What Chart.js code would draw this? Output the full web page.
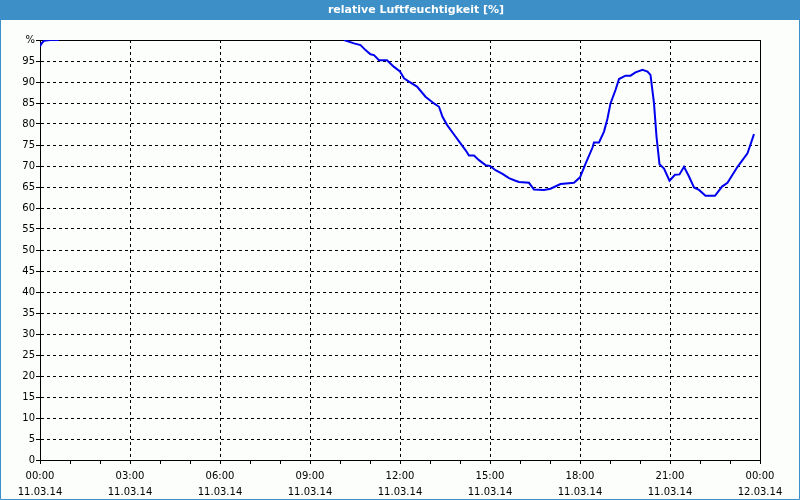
<!DOCTYPE html>
<html>
<head>
<meta charset="utf-8">
<script src="https://cdn.jsdelivr.net/npm/chart.js@4"></script>
<style>
  html, body { margin: 0; padding: 0; background: #fcfefc; }
  #wrap { width: 800px; height: 500px; }
</style>
</head>
<body>
<div id="wrap"><canvas id="humidity-graph" width="800" height="500"></canvas></div>
<script>
const chartTitle = "relative Luftfeuchtigkeit [%]"

// Messzeitpunkte (11.03.14) und relative Luftfeuchtigkeit in %
const times = [
    "00:00", "00:04", "00:08", "00:20", "00:38", "05:00",
    "10:08", "10:28", "10:41", "10:51", "11:01", "11:08", "11:18", "11:34", "11:48",
    "12:00", "12:08", "12:18", "12:34", "12:51", "13:08", "13:18", "13:25", "13:34", "13:48",
    "14:01", "14:11", "14:18", "14:28", "14:38", "14:51", "15:00", "15:11", "15:25", "15:38",
    "15:51", "15:58", "16:18", "16:28", "16:48", "17:01", "17:21", "17:48", "18:00", "18:11",
    "18:25", "18:28", "18:38", "18:48", "18:55", "19:01", "19:11", "19:18", "19:31", "19:41",
    "19:51", "20:05", "20:15", "20:21", "20:28", "20:33", "20:39", "20:48", "20:59", "21:10",
    "21:19", "21:28", "21:38", "21:48", "21:58", "22:11", "22:30", "22:44", "22:55", "23:15",
    "23:35", "23:48"
]
const humidity = [
    98.5, 99.3, 99.8, 100, 100, null,
    100, 99.2, 98.8, 97.6, 96.6, 96.4, 95.2, 95.2, 93.6,
    92.5, 90.9, 90.1, 88.9, 86.5, 84.9, 84.1, 81.7, 79.8, 77.5,
    75.4, 73.8, 72.5, 72.5, 71.4, 70.2, 70.0, 69.0, 68.1, 67.1,
    66.5, 66.2, 66.0, 64.4, 64.3, 64.6, 65.7, 66.0, 67.3, 70.5,
    74.4, 75.6, 75.6, 78.2, 81.3, 84.9, 88.1, 90.7, 91.5, 91.5,
    92.3, 92.9, 92.5, 91.7, 84.9, 77.0, 70.4, 69.4, 66.5, 67.9,
    68.0, 69.8, 67.5, 64.9, 64.3, 62.9, 62.9, 65.1, 66.0, 69.8,
    73.0, 77.6
]

const tickTimes = ["00:00", "03:00", "06:00", "09:00", "12:00", "15:00", "18:00", "21:00", "00:00"]
const tickDates = ["11.03.14", "11.03.14", "11.03.14", "11.03.14", "11.03.14", "11.03.14", "11.03.14", "11.03.14", "12.03.14"]

const fontFamily = "'DejaVu Sans', Verdana, sans-serif"
const barColor = "#3d8fc7"

function toHours(t) {
    let parts = t.split(":")
    return Number(parts[0]) + Number(parts[1]) / 60
}

function points() {
    let array = []
    for (let i = 0; i < times.length; i++) {
        array.push({ x: toHours(times[i]), y: humidity[i] })
    }
    return array
}

// Fenster: Titelleiste, blauer Rahmen, schwarzer Rahmen um die Zeichenfläche
const framePlugin = {
    id: "frame",
    beforeDraw(chart) {
        const ctx = chart.ctx
        ctx.save()
        ctx.fillStyle = "#fcfefc"
        ctx.fillRect(0, 0, chart.width, chart.height)
        ctx.fillStyle = barColor
        ctx.fillRect(0, 0, chart.width, 20)
        ctx.strokeStyle = barColor
        ctx.lineWidth = 1
        ctx.beginPath()
        ctx.moveTo(0.5, 20)
        ctx.lineTo(0.5, chart.height - 0.5)
        ctx.lineTo(chart.width - 0.5, chart.height - 0.5)
        ctx.lineTo(chart.width - 0.5, 20)
        ctx.stroke()
        ctx.fillStyle = "#ffffff"
        ctx.font = "bold 11px " + fontFamily
        ctx.textAlign = "center"
        ctx.textBaseline = "middle"
        ctx.fillText(chartTitle, 416, 10.5)
        ctx.restore()
    },
    beforeDatasetsDraw(chart) {
        const a = chart.chartArea
        const ctx = chart.ctx
        ctx.save()
        ctx.strokeStyle = "#000000"
        ctx.lineWidth = 1
        ctx.strokeRect(Math.round(a.left) + 0.5, Math.round(a.top) + 0.5,
            Math.round(a.right - a.left), Math.round(a.bottom - a.top))
        ctx.restore()
    }
}

let graphChart = document.getElementById("humidity-graph").getContext("2d")

const config = {
    type: "line",
    data: {
        datasets: [{
            label: chartTitle,
            data: points(),
            borderColor: "#0000ee",
            borderWidth: 2,
            pointRadius: 0,
            tension: 0,
            spanGaps: false,
        }],
    },
    options: {
        responsive: false,
        animation: false,
        devicePixelRatio: 1,
        layout: {
            padding: { top: 40, right: 40, left: 0, bottom: 0 }
        },
        plugins: {
            legend: { display: false },
            title: { display: false },
            tooltip: { enabled: false },
        },
        scales: {
            x: {
                type: "linear",
                min: 0,
                max: 24,
                afterFit: (scale) => { scale.height = 40 },
                ticks: {
                    stepSize: 1,
                    autoSkip: false,
                    maxRotation: 0,
                    padding: 4,
                    color: "#000000",
                    font: { family: fontFamily, size: 10, lineHeight: 1.65 },
                    callback: (v) => v % 3 === 0 ? [tickTimes[v / 3], tickDates[v / 3]] : "",
                },
                grid: {
                    color: (ctx) => ctx.tick && ctx.tick.value % 3 === 0 ? "#000000" : "rgba(0,0,0,0)",
                    tickColor: "#000000",
                    tickLength: 4,
                    lineWidth: 1,
                },
                border: { display: true, color: "#000000", dash: [3, 3] },
            },
            y: {
                min: 0,
                max: 100,
                afterFit: (scale) => { scale.width = 40 },
                ticks: {
                    stepSize: 5,
                    padding: 1,
                    color: "#000000",
                    font: { family: fontFamily, size: 10 },
                    callback: (v) => v === 100 ? "%" : v,
                },
                grid: {
                    color: "#000000",
                    tickColor: "#000000",
                    tickLength: 4,
                    lineWidth: 1,
                },
                border: { display: true, color: "#000000", dash: [3, 3] },
            }
        }
    },
    plugins: [framePlugin]
}

const chart = new Chart(graphChart, config)
</script>
</body>
</html>
